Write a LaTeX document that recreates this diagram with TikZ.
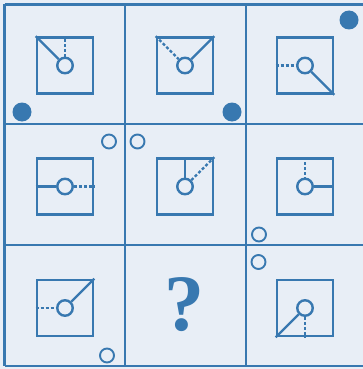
\documentclass[tikz,border=0pt]{standalone}
\usepackage{tikz}
\usepackage{fontspec}
\newfontfamily\qmfont{Liberation Serif}
\definecolor{puzblue}{RGB}{56,120,176}
\definecolor{paper}{RGB}{232,238,246}

\begin{document}
\begin{tikzpicture}[x=1pt,y=-1pt,
  frame/.style={draw=puzblue, line width=2.4pt},
  sqbox/.style={draw=puzblue, line width=2.6pt, rectangle, minimum size=56pt, inner sep=0pt},
  ring/.style={draw=puzblue, line width=2.4pt, circle, minimum size=15.5pt, inner sep=0pt},
  link/.style={draw=puzblue, line width=2.4pt},
  dlink/.style={draw=puzblue, line width=2.2pt, dash pattern=on 3pt off 2pt},
  dot/.style={fill=puzblue, circle, minimum size=19pt, inner sep=0pt},
  hole/.style={draw=puzblue, line width=1.9pt, circle, minimum size=14pt, inner sep=0pt}]
\useasboundingbox (0,0) rectangle (363,369);
\fill[paper] (0,0) rectangle (363,369);
% grid of the puzzle
\foreach \x in {4.5,125,246,367} \draw[frame] (\x,4.5) -- (\x,366);
\foreach \y in {4.5,124,245,366} \draw[frame] (4.5,\y) -- (367,\y);
% row 1
\node[sqbox] (sq1) at (65,65.5) {};
\node[ring] (c1) at (65,65.5) {};
\draw[link] (sq1.north west) -- (c1);
\draw[dlink] (c1) -- (sq1.north);
\node[sqbox] (sq2) at (185,65.5) {};
\node[ring] (c2) at (185,65.5) {};
\draw[dlink] (sq2.north west) -- (c2);
\draw[link] (c2) -- (sq2.north east);
\node[sqbox] (sq3) at (305,65.5) {};
\node[ring] (c3) at (305,65.5) {};
\draw[dlink] (sq3.west) -- (c3);
\draw[link] (c3) -- (sq3.south east);
\node[dot] (d1) at (22,112) {};
\node[dot] (d2) at (232,112) {};
\node[dot] (d3) at (349,20) {};
% row 2
\node[sqbox] (sq4) at (65,186.5) {};
\node[ring] (c4) at (65,186.5) {};
\draw[link] (sq4.west) -- (c4);
\draw[dlink] (c4) -- (sq4.east);
\node[sqbox] (sq5) at (185,186.5) {};
\node[ring] (c5) at (185,186.5) {};
\draw[link] (sq5.north) -- (c5);
\draw[dlink] (c5) -- (sq5.north east);
\node[sqbox] (sq6) at (305,186.5) {};
\node[ring] (c6) at (305,186.5) {};
\draw[dlink] (sq6.north) -- (c6);
\draw[link] (c6) -- (sq6.east);
\node[hole] (h4) at (109,141.5) {};
\node[hole] (h5) at (137.5,141.5) {};
\node[hole] (h6) at (259,234.5) {};
% row 3
\node[sqbox] (sq7) at (65,308) {};
\node[ring] (c7) at (65,308) {};
\draw[dlink] (sq7.west) -- (c7);
\draw[link] (c7) -- (sq7.north east);
\node[text=puzblue, font=\qmfont\fontsize{80}{80}\selectfont\bfseries] (qm) at (184,305) {?};
\node[sqbox] (sq9) at (305,308) {};
\node[ring] (c9) at (305,308) {};
\draw[link] (c9) -- (sq9.south west);
\draw[dlink] (c9) -- (sq9.south);
\node[hole] (h7) at (107,355.5) {};
\node[hole] (h9) at (258.5,262) {};
\end{tikzpicture}
\end{document}
